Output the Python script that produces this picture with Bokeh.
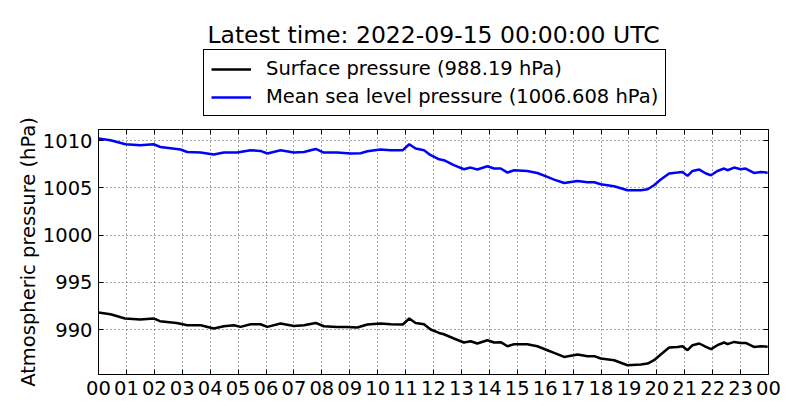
from bokeh.plotting import figure
from bokeh.layouts import column
from bokeh.models import Range1d, FixedTicker, LinearAxis, Legend, LegendItem, Label
from bokeh.embed import file_html
from bokeh.resources import INLINE

title_text = "Latest time: 2022-09-15 00:00:00 UTC"
y_label = "Atmospheric pressure (hPa)"
hour_ticks = list(range(25))
hour_labels = ["%02d" % (h % 24) for h in range(25)]
y_ticks = [990, 995, 1000, 1005, 1010]

sfc_label = "Surface pressure (988.19 hPa)"
msl_label = "Mean sea level pressure (1006.608 hPa)"

msl_hours = [0.0, 0.43, 0.97, 1.5, 1.97, 2.22, 2.94, 3.18, 3.66, 4.13, 4.49, 4.97,
             5.45, 5.8, 6.05, 6.52, 7.0, 7.36, 7.78, 8.07, 8.55, 9.03, 9.39, 9.63,
             10.1, 10.47, 10.9, 11.13, 11.36, 11.66, 11.9, 12.2, 12.37, 12.73, 13.09,
             13.33, 13.57, 13.93, 14.17, 14.41, 14.65, 14.89, 15.36, 15.72, 16.08,
             16.32, 16.68, 17.16, 17.52, 17.76, 17.99, 18.47, 18.95, 19.43, 19.67,
             19.9, 20.14, 20.44, 20.74, 20.92, 21.1, 21.28, 21.52, 21.76, 21.94,
             22.17, 22.41, 22.53, 22.77, 23.0, 23.18, 23.48, 23.73, 23.97]
msl_values = [1010.23, 1010.05, 1009.63, 1009.52, 1009.63, 1009.34, 1009.07, 1008.81,
              1008.75, 1008.54, 1008.75, 1008.75, 1009.0, 1008.92, 1008.65, 1009.0,
              1008.75, 1008.81, 1009.13, 1008.75, 1008.75, 1008.65, 1008.68, 1008.89,
              1009.07, 1009.0, 1009.0, 1009.63, 1009.17, 1009.0, 1008.47, 1008.04,
              1007.94, 1007.41, 1006.98, 1007.16, 1006.95, 1007.30, 1007.06, 1007.06,
              1006.63, 1006.88, 1006.80, 1006.59, 1006.17, 1005.89, 1005.53, 1005.75,
              1005.61, 1005.61, 1005.40, 1005.19, 1004.76, 1004.76, 1004.87, 1005.29,
              1005.89, 1006.53, 1006.63, 1006.70, 1006.28, 1006.80, 1006.95, 1006.53,
              1006.35, 1006.80, 1007.06, 1006.88, 1007.16, 1006.98, 1007.06, 1006.59,
              1006.70, 1006.61]

sfc_hours = [0.0, 0.43, 0.95, 1.5, 1.97, 2.2, 2.8, 3.18, 3.66, 4.13, 4.49, 4.85, 5.09,
             5.45, 5.8, 6.05, 6.52, 7.0, 7.36, 7.78, 8.07, 8.55, 8.91, 9.27, 9.63,
             10.1, 10.47, 10.9, 11.13, 11.36, 11.66, 11.9, 12.2, 12.37, 12.73, 13.09,
             13.33, 13.57, 13.93, 14.17, 14.41, 14.65, 14.89, 15.36, 15.72, 16.08,
             16.32, 16.68, 17.16, 17.52, 17.76, 17.99, 18.47, 18.95, 19.43, 19.67,
             19.9, 20.14, 20.44, 20.74, 20.92, 21.1, 21.28, 21.52, 21.76, 21.94,
             22.17, 22.41, 22.53, 22.77, 23.0, 23.18, 23.48, 23.73, 23.97]
sfc_values = [991.82, 991.64, 991.19, 991.08, 991.19, 990.90, 990.72, 990.48, 990.48,
              990.13, 990.37, 990.48, 990.30, 990.58, 990.58, 990.30, 990.66, 990.40,
              990.48, 990.72, 990.37, 990.30, 990.30, 990.23, 990.55, 990.66, 990.58,
              990.55, 991.19, 990.72, 990.58, 990.02, 989.66, 989.52, 989.07, 988.65,
              988.78, 988.54, 988.89, 988.65, 988.68, 988.25, 988.47, 988.47, 988.25,
              987.83, 987.55, 987.12, 987.37, 987.20, 987.20, 986.95, 986.77, 986.24,
              986.32, 986.42, 986.77, 987.37, 988.12, 988.18, 988.25, 987.83, 988.36,
              988.54, 988.18, 987.94, 988.36, 988.65, 988.47, 988.71, 988.60, 988.60,
              988.18, 988.25, 988.19]

FONT = "DejaVu Sans"
FS = "19.5px"
HEAD_H = 117
MAIN_H = 420 - HEAD_H
FRAME_W = 670

# ---------------- header: title + legend ----------------
head = figure(width=800, height=HEAD_H, output_backend="svg", toolbar_location=None,
              x_range=Range1d(0, 1), y_range=Range1d(0, 1),
              min_border_left=98, min_border_right=32, min_border_top=0, min_border_bottom=0)
head.axis.visible = False
head.grid.visible = False
head.outline_line_color = None
head.background_fill_color = "white"
head.border_fill_color = "white"
h_sfc = head.line(sfc_hours, sfc_values, line_color="black", line_width=2.5)
h_msl = head.line(msl_hours, msl_values, line_color="#0000ff", line_width=2.5)

legend = Legend(items=[LegendItem(label=sfc_label, renderers=[h_sfc]),
                       LegendItem(label=msl_label, renderers=[h_msl])],
                location=(105, 1), orientation="vertical",
                label_text_font=FONT, label_text_font_size=FS, label_text_color="black",
                glyph_width=40, glyph_height=22, label_height=22, label_standoff=15,
                spacing=5, padding=7, margin=0,
                border_line_color="black", border_line_width=1, border_line_alpha=1,
                background_fill_color="white", background_fill_alpha=1)
head.add_layout(legend, "center")

title = Label(x=FRAME_W / 2, y=HEAD_H - 34.5, x_units="screen", y_units="screen",
              text=title_text, text_font=FONT, text_font_size="23.5px",
              text_align="center", text_baseline="alphabetic", text_color="black")
head.add_layout(title)

# ---------------- main plot ----------------
p = figure(width=800, height=MAIN_H, output_backend="svg", toolbar_location=None,
           x_range=Range1d(0, 24), y_range=Range1d(985.26, 1011.19),
           min_border_left=98, min_border_right=32, min_border_top=129 - HEAD_H,
           min_border_bottom=46)
p.background_fill_color = "white"
p.border_fill_color = "white"
p.outline_line_color = "black"
p.outline_line_width = 1

r_sfc = p.line(sfc_hours, sfc_values, line_color="black", line_width=2.5)
r_msl = p.line(msl_hours, msl_values, line_color="#0000ff", line_width=2.5)

xax = p.xaxis[0]
xax.ticker = FixedTicker(ticks=hour_ticks)
xax.major_label_overrides = {t: l for t, l in zip(hour_ticks, hour_labels)}
yax = p.yaxis[0]
yax.ticker = FixedTicker(ticks=y_ticks)
yax.axis_label = y_label
for ax in (xax, yax):
    ax.major_tick_in = 5
    ax.major_tick_out = 0
    ax.minor_tick_in = 0
    ax.minor_tick_out = 0
    ax.major_label_text_font = FONT
    ax.major_label_text_font_size = FS
    ax.major_label_text_color = "black"
    ax.axis_line_color = "black"
    ax.major_tick_line_color = "black"
    ax.major_label_standoff = 6
yax.axis_label_text_font = FONT
yax.axis_label_text_font_size = FS
yax.axis_label_text_font_style = "normal"
yax.axis_label_text_color = "black"
yax.axis_label_standoff = 0

top_ax = LinearAxis(ticker=FixedTicker(ticks=hour_ticks), major_label_text_color=None,
                    major_label_text_font_size="6px",
                    major_tick_in=5, major_tick_out=0, minor_tick_in=0, minor_tick_out=0,
                    major_label_standoff=0, axis_line_color="black")
right_ax = LinearAxis(ticker=FixedTicker(ticks=y_ticks), major_label_text_color=None,
                      major_label_text_font_size="6px",
                      major_tick_in=5, major_tick_out=0, minor_tick_in=0, minor_tick_out=0,
                      major_label_standoff=0, axis_line_color="black")
p.add_layout(top_ax, "above")
p.add_layout(right_ax, "right")

for g in (p.xgrid[0], p.ygrid[0]):
    g.grid_line_color = "black"
    g.grid_line_dash = "1 3"
    g.grid_line_width = 1
    g.grid_line_alpha = 0.7

layout = column(head, p, spacing=0)
open("out.html", "w").write(file_html(layout, INLINE))
